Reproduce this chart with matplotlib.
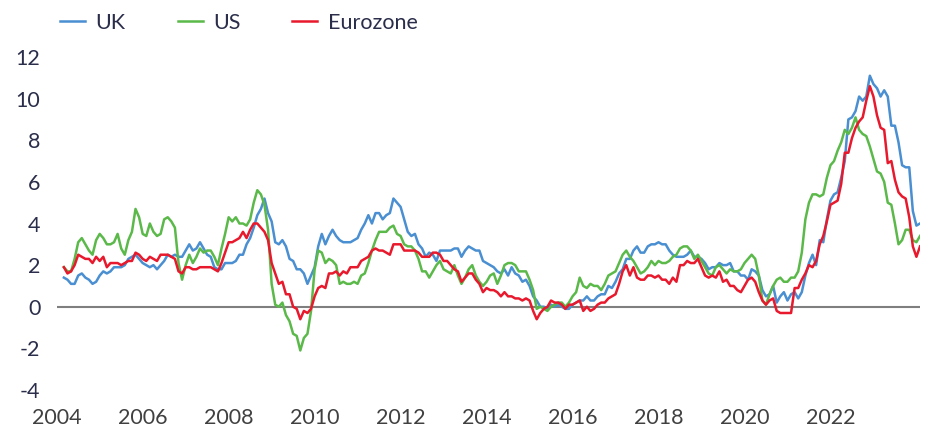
import numpy as np
import matplotlib
matplotlib.use('Agg')
import matplotlib.pyplot as plt
from matplotlib.lines import Line2D

# Annual inflation rates (%), monthly, Jan 2004 - Dec 2023
uk = [1.4, 1.3, 1.1, 1.1, 1.5, 1.6, 1.4, 1.3, 1.1, 1.2, 1.5, 1.7,
      1.6, 1.7, 1.9, 1.9, 1.9, 2.0, 2.3, 2.4, 2.5, 2.3, 2.1, 2.0,
      1.9, 2.0, 1.8, 2.0, 2.2, 2.5, 2.4, 2.5, 2.4, 2.4, 2.7, 3.0,
      2.7, 2.8, 3.1, 2.8, 2.5, 2.4, 1.9, 1.8, 1.8, 2.1, 2.1, 2.1,
      2.2, 2.5, 2.5, 3.0, 3.3, 3.8, 4.4, 4.7, 5.2, 4.5, 4.1, 3.1,
      3.0, 3.2, 2.9, 2.3, 2.2, 1.8, 1.8, 1.6, 1.1, 1.5, 1.9, 2.9,
      3.5, 3.0, 3.4, 3.7, 3.4, 3.2, 3.1, 3.1, 3.1, 3.2, 3.3, 3.7,
      4.0, 4.4, 4.0, 4.5, 4.5, 4.2, 4.4, 4.5, 5.2, 5.0, 4.8, 4.2,
      3.6, 3.4, 3.5, 3.0, 2.8, 2.4, 2.6, 2.5, 2.2, 2.7, 2.7, 2.7,
      2.7, 2.8, 2.8, 2.4, 2.7, 2.9, 2.8, 2.7, 2.7, 2.2, 2.1, 2.0,
      1.9, 1.7, 1.6, 1.8, 1.5, 1.9, 1.6, 1.5, 1.2, 1.3, 1.0, 0.5,
      0.3, 0.0, 0.0, -0.1, 0.1, 0.0, 0.1, 0.0, -0.1, -0.1, 0.1, 0.2,
      0.3, 0.3, 0.5, 0.3, 0.3, 0.5, 0.6, 0.6, 1.0, 0.9, 1.2, 1.6,
      1.8, 2.3, 2.3, 2.7, 2.9, 2.6, 2.6, 2.9, 3.0, 3.0, 3.1, 3.0,
      3.0, 2.7, 2.5, 2.4, 2.4, 2.4, 2.5, 2.7, 2.4, 2.4, 2.3, 2.1,
      1.8, 1.9, 1.9, 2.1, 2.0, 2.0, 2.1, 1.7, 1.7, 1.5, 1.5, 1.3,
      1.8, 1.7, 1.5, 0.8, 0.5, 0.6, 1.0, 0.2, 0.5, 0.7, 0.3, 0.6,
      0.7, 0.4, 0.7, 1.5, 2.1, 2.5, 2.0, 3.2, 3.1, 4.2, 5.1, 5.4,
      5.5, 6.2, 7.0, 9.0, 9.1, 9.4, 10.1, 9.9, 10.1, 11.1, 10.7, 10.5,
      10.1, 10.4, 10.1, 8.7, 8.7, 7.9, 6.8, 6.7, 6.7, 4.6, 3.9, 4.0]

us = [1.9, 1.7, 1.7, 2.3, 3.1, 3.3, 3.0, 2.7, 2.5, 3.2, 3.5, 3.3,
      3.0, 3.0, 3.1, 3.5, 2.8, 2.5, 3.2, 3.6, 4.7, 4.3, 3.5, 3.4,
      4.0, 3.6, 3.4, 3.5, 4.2, 4.3, 4.1, 3.8, 2.1, 1.3, 2.0, 2.5,
      2.1, 2.4, 2.8, 2.6, 2.7, 2.7, 2.4, 2.0, 2.8, 3.5, 4.3, 4.1,
      4.3, 4.0, 4.0, 3.9, 4.2, 5.0, 5.6, 5.4, 4.9, 3.7, 1.1, 0.1,
      0.0, 0.2, -0.4, -0.7, -1.3, -1.4, -2.1, -1.5, -1.3, -0.2, 1.8, 2.7,
      2.6, 2.1, 2.3, 2.2, 2.0, 1.1, 1.2, 1.1, 1.1, 1.2, 1.1, 1.5,
      1.6, 2.1, 2.7, 3.2, 3.6, 3.6, 3.6, 3.8, 3.9, 3.5, 3.4, 3.0,
      2.9, 2.9, 2.7, 2.3, 1.7, 1.7, 1.4, 1.7, 2.0, 2.2, 1.8, 1.7,
      1.6, 2.0, 1.5, 1.1, 1.4, 1.8, 2.0, 1.5, 1.2, 1.0, 1.2, 1.5,
      1.6, 1.1, 1.5, 2.0, 2.1, 2.1, 2.0, 1.7, 1.7, 1.7, 1.3, 0.8,
      -0.1, 0.0, -0.1, -0.2, 0.0, 0.1, 0.2, 0.2, 0.0, 0.2, 0.5, 0.7,
      1.4, 1.0, 0.9, 1.1, 1.0, 1.0, 0.8, 1.1, 1.5, 1.6, 1.7, 2.1,
      2.5, 2.7, 2.4, 2.2, 1.9, 1.6, 1.7, 1.9, 2.2, 2.0, 2.2, 2.1,
      2.1, 2.2, 2.4, 2.5, 2.8, 2.9, 2.9, 2.7, 2.3, 2.5, 2.2, 1.9,
      1.6, 1.5, 1.9, 2.0, 1.8, 1.6, 1.8, 1.7, 1.7, 1.8, 2.1, 2.3,
      2.5, 2.3, 1.5, 0.3, 0.1, 0.6, 1.0, 1.3, 1.4, 1.2, 1.2, 1.4,
      1.4, 1.7, 2.6, 4.2, 5.0, 5.4, 5.4, 5.3, 5.4, 6.2, 6.8, 7.0,
      7.5, 7.9, 8.5, 8.3, 8.6, 9.1, 8.5, 8.3, 8.2, 7.7, 7.1, 6.5,
      6.4, 6.0, 5.0, 4.9, 4.0, 3.0, 3.2, 3.7, 3.7, 3.2, 3.1, 3.4]

eurozone = [1.9, 1.6, 1.7, 2.0, 2.5, 2.4, 2.3, 2.3, 2.1, 2.4, 2.2, 2.4,
            1.9, 2.1, 2.1, 2.1, 2.0, 2.1, 2.2, 2.2, 2.6, 2.5, 2.3, 2.2,
            2.4, 2.3, 2.2, 2.5, 2.5, 2.5, 2.4, 2.3, 1.7, 1.6, 1.9, 1.9,
            1.8, 1.8, 1.9, 1.9, 1.9, 1.9, 1.8, 1.7, 2.1, 2.6, 3.1, 3.1,
            3.2, 3.3, 3.6, 3.3, 3.7, 4.0, 4.0, 3.8, 3.6, 3.2, 2.1, 1.6,
            1.1, 1.2, 0.6, 0.6, 0.0, -0.1, -0.6, -0.2, -0.3, -0.1, 0.5, 0.9,
            1.0, 0.9, 1.6, 1.6, 1.7, 1.5, 1.7, 1.6, 1.9, 1.9, 1.9, 2.2,
            2.3, 2.4, 2.7, 2.8, 2.7, 2.7, 2.6, 2.5, 3.0, 3.0, 3.0, 2.7,
            2.7, 2.7, 2.7, 2.6, 2.4, 2.4, 2.4, 2.6, 2.6, 2.5, 2.2, 2.2,
            2.0, 1.8, 1.7, 1.2, 1.4, 1.6, 1.6, 1.3, 1.1, 0.7, 0.9, 0.8,
            0.8, 0.7, 0.5, 0.7, 0.5, 0.5, 0.4, 0.4, 0.3, 0.4, 0.3, -0.2,
            -0.6, -0.3, -0.1, 0.0, 0.3, 0.2, 0.2, 0.1, -0.1, 0.1, 0.1, 0.2,
            0.3, -0.2, 0.0, -0.2, -0.1, 0.1, 0.2, 0.2, 0.4, 0.5, 0.6, 1.1,
            1.7, 2.0, 1.5, 1.9, 1.4, 1.3, 1.3, 1.5, 1.5, 1.4, 1.5, 1.3,
            1.3, 1.1, 1.4, 1.2, 2.0, 2.0, 2.2, 2.1, 2.1, 2.3, 1.9, 1.5,
            1.4, 1.5, 1.4, 1.7, 1.2, 1.3, 1.0, 1.0, 0.8, 0.7, 1.0, 1.3,
            1.4, 1.2, 0.7, 0.3, 0.1, 0.3, 0.4, -0.2, -0.3, -0.3, -0.3, -0.3,
            0.9, 0.9, 1.3, 1.6, 2.0, 1.9, 2.2, 3.0, 3.4, 4.1, 4.9, 5.0,
            5.1, 5.9, 7.4, 7.4, 8.1, 8.6, 8.9, 9.1, 9.9, 10.6, 10.1, 9.2,
            8.6, 8.5, 6.9, 7.0, 6.1, 5.5, 5.3, 5.2, 4.3, 2.9, 2.4, 2.9]

start_year = 2004
tick_years = list(range(2004, 2023, 2))
y_ticks = list(range(-4, 13, 2))

dates = start_year + np.arange(len(uk)) / 12

plt.rcParams['font.family'] = ['Lato', 'DejaVu Sans']
navy = '#2b2e4a'
colors = {'UK': '#4a8fd1', 'US': '#5bb94a', 'Eurozone': '#e8192c'}

fig = plt.figure(figsize=(9.27, 4.29), dpi=100)
ax = fig.add_axes([57 / 927, 39 / 429, 863 / 927, 333 / 429])

ax.axhline(0, color='#7f7f7f', lw=1.5, zorder=1)
ax.plot(dates, uk, color=colors['UK'], lw=1.8, zorder=2)
ax.plot(dates, us, color=colors['US'], lw=1.8, zorder=3)
ax.plot(dates, eurozone, color=colors['Eurozone'], lw=1.8, zorder=4)

ax.set_xlim(dates[0], dates[-1])
ax.set_ylim(-4, 12)
ax.set_xticks([y - 0.16 for y in tick_years])
ax.set_xticklabels([str(y) for y in tick_years])
ax.set_yticks(y_ticks)
ax.set_yticklabels([str(v) for v in y_ticks])
ax.tick_params(length=0, labelsize=15.5)
ax.tick_params(axis='y', pad=12, labelcolor=navy)
ax.tick_params(axis='x', pad=13, labelcolor='#404040')
for s in ax.spines.values():
    s.set_visible(False)

# legend: one entry per series, spaced like the original
legend_x = {'UK': 60, 'US': 178, 'Eurozone': 292}
for name, x0 in legend_x.items():
    h = Line2D([], [], color=colors[name], lw=1.8)
    leg = fig.legend([h], [name], loc='center left',
                     bbox_to_anchor=(x0 / 927, 1 - 23 / 429),
                     frameon=False, fontsize=15.5, labelcolor=navy,
                     handlelength=1.15, handletextpad=0.5,
                     borderpad=0, borderaxespad=0)

fig.savefig('out.png', dpi=100)
